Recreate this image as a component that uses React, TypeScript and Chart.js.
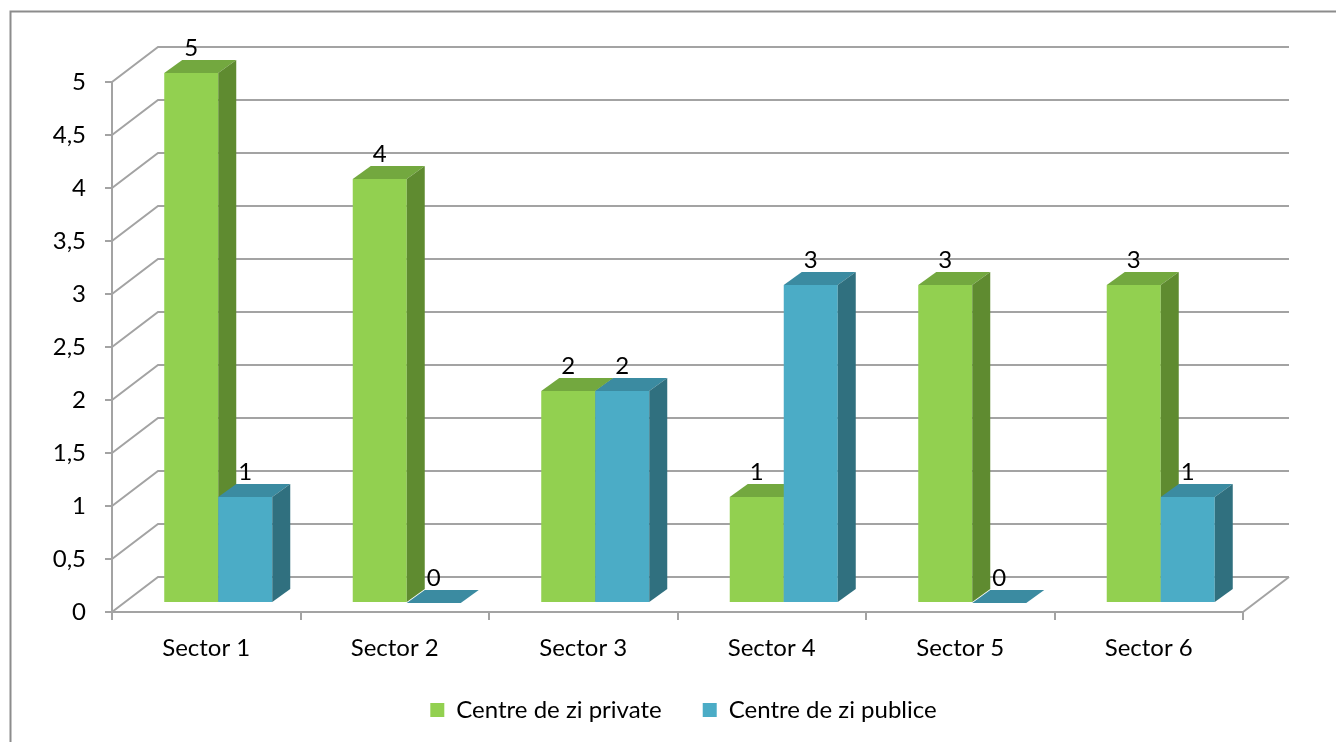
import React, { useEffect, useRef } from 'react';
import { Chart, registerables } from 'chart.js';

Chart.register(...registerables);

// ---- data ----
const categories = ['Sector 1', 'Sector 2', 'Sector 3', 'Sector 4', 'Sector 5', 'Sector 6'];
const privateValues = [5, 4, 2, 1, 3, 3];
const publicValues = [1, 0, 2, 3, 0, 1];
const seriesNames = ['Centre de zi private', 'Centre de zi publice'];
const yTickLabels = ['0', '0,5', '1', '1,5', '2', '2,5', '3', '3,5', '4', '4,5', '5'];

// ---- layout / style ----
const W = 1336;
const H = 742;
const FONT = 'Lato';
const FONT_SIZE = 24;
const GRID = '#a3a3a3';
const PLOT_BOTTOM = 612;
const PAD_L = 31;
const PAD_B = 10;
const LEGEND_PAD = 41;
const WALL_DX = 46, WALL_DY = -35;
const BAR_DX = 12, BAR_DY = -9;
const DEPTH_DX = 18, DEPTH_DY = -13;
const faceColors = [
  { front: '#92D050', top: '#73A83F', side: '#5F8B30' },
  { front: '#4BACC6', top: '#3B8BA1', side: '#30707F' },
];

function poly(ctx: CanvasRenderingContext2D, pts: number[][], fill: string) {
  ctx.fillStyle = fill;
  ctx.beginPath();
  ctx.moveTo(pts[0][0], pts[0][1]);
  for (let i = 1; i < pts.length; i++) ctx.lineTo(pts[i][0], pts[i][1]);
  ctx.closePath();
  ctx.fill();
}

const threeD = {
  id: 'threeD',
  beforeDraw(chart: any) {
    const ctx = chart.ctx;
    ctx.save();
    ctx.strokeStyle = '#8c8c8c';
    ctx.lineWidth = 2;
    ctx.beginPath();
    ctx.moveTo(10.5, H + 5);
    ctx.lineTo(10.5, 11.5);
    ctx.lineTo(W + 5, 11.5);
    ctx.stroke();
    ctx.restore();
  },
  beforeDatasetsDraw(chart: any) {
    const { ctx, chartArea: a } = chart;
    const y = chart.scales.y;
    // back wall + left wall grid
    ctx.save();
    ctx.strokeStyle = GRID;
    ctx.lineWidth = 2;
    y.ticks.forEach((t: any) => {
      const py = y.getPixelForValue(t.value);
      ctx.beginPath();
      ctx.moveTo(a.left, py);
      ctx.lineTo(a.left + WALL_DX, py + WALL_DY);
      ctx.lineTo(a.right + WALL_DX, py + WALL_DY);
      ctx.stroke();
    });
    const p0 = y.getPixelForValue(0);
    ctx.beginPath();
    ctx.moveTo(a.right, p0);
    ctx.lineTo(a.right + WALL_DX, p0 + WALL_DY);
    ctx.stroke();
    ctx.restore();

    // bars, drawn series by series from left to right so that the right bar covers the left bar's side
    ctx.save();
    ctx.translate(BAR_DX, BAR_DY);
    chart.data.datasets.forEach((_ds: any, i: number) => {
      const meta = chart.getDatasetMeta(i);
      const c = faceColors[i];
      meta.controller.draw();
      meta.data.forEach((el: any) => {
        const { x, y: ey, base, width } = el.getProps(['x', 'y', 'base', 'width'], true);
        const l = x - width / 2;
        const r = x + width / 2;
        const top = Math.min(ey, base);
        const bot = Math.max(ey, base);
        poly(ctx, [[l, top], [l + DEPTH_DX, top + DEPTH_DY], [r + DEPTH_DX, top + DEPTH_DY], [r, top]], c.top);
        poly(ctx, [[r, top], [r + DEPTH_DX, top + DEPTH_DY], [r + DEPTH_DX, bot + DEPTH_DY], [r, bot]], c.side);
      });
    });

    // value labels
    ctx.fillStyle = '#000';
    ctx.font = `${FONT_SIZE}px ${FONT}`;
    ctx.textAlign = 'center';
    ctx.textBaseline = 'alphabetic';
    chart.data.datasets.forEach((ds: any, i: number) => {
      const meta = chart.getDatasetMeta(i);
      meta.data.forEach((el: any, j: number) => {
        const { x, y: ey, base } = el.getProps(['x', 'y', 'base'], true);
        const top = Math.min(ey, base);
        ctx.fillText(String(ds.data[j]), x, top - 17);
      });
    });
    ctx.restore();
    return false;
  },
};

export default function App() {
  const ref = useRef<HTMLCanvasElement>(null);
  useEffect(() => {
    const tickFont = { family: FONT, size: FONT_SIZE };
    const chart = new Chart(ref.current as HTMLCanvasElement, {
      type: 'bar',
      data: {
        labels: categories,
        datasets: [
          {
            label: seriesNames[0],
            data: privateValues,
            backgroundColor: faceColors[0].front,
            borderWidth: 0,
          },
          {
            label: seriesNames[1],
            data: publicValues,
            backgroundColor: faceColors[1].front,
            borderWidth: 0,
          },
        ],
      },
      options: {
        responsive: false,
        devicePixelRatio: 1,
        animation: false,
        events: [],
        layout: { padding: { left: PAD_L, right: 0, top: 82, bottom: PAD_B } },
        datasets: { bar: { categoryPercentage: 0.573, barPercentage: 1 } },
        plugins: {
          tooltip: { enabled: false },
          legend: {
            position: 'bottom',
            labels: {
              color: '#000',
              font: tickFont,
              boxWidth: 14,
              boxHeight: 14,
              padding: LEGEND_PAD,
            },
          },
        },
        scales: {
          x: {
            type: 'category',
            offset: true,
            grid: {
              display: true,
              offset: true,
              drawOnChartArea: false,
              drawTicks: true,
              tickLength: 8,
              color: GRID,
              lineWidth: 2,
            },
            border: { display: true, color: GRID, width: 2 },
            ticks: { color: '#000', font: tickFont, padding: 14, maxRotation: 0, autoSkip: false },
            afterFit: (s: any) => {
              const lh = s.chart.legend && s.chart.legend.height ? s.chart.legend.height : FONT_SIZE + LEGEND_PAD + 10;
              s.height = H - PAD_B - lh - PLOT_BOTTOM;
            },
          },
          y: {
            type: 'linear',
            position: 'left',
            min: 0,
            max: 5,
            grid: {
              display: true,
              drawOnChartArea: false,
              drawTicks: true,
              tickLength: 7,
              color: GRID,
              lineWidth: 2,
            },
            border: { display: true, color: GRID, width: 2 },
            ticks: {
              stepSize: 0.5,
              color: '#000',
              font: tickFont,
              padding: 19,
              callback: (_v: any, i: number) => yTickLabels[i],
            },
            afterFit: (s: any) => {
              s.width = 112 - PAD_L;
            },
          },
          yR: {
            type: 'linear',
            position: 'right',
            display: true,
            grid: { display: false, drawTicks: false },
            border: { display: false },
            ticks: { display: false },
            afterFit: (s: any) => {
              s.width = 93;
            },
          },
        },
      } as any,
      plugins: [threeD],
    });
    return () => chart.destroy();
  }, []);
  return (
    <div style={{ position: 'absolute', left: 0, top: 0, width: W, height: H, background: '#fff' }}>
      <canvas ref={ref} width={W} height={H} style={{ display: 'block', width: W, height: H }} />
    </div>
  );
}
